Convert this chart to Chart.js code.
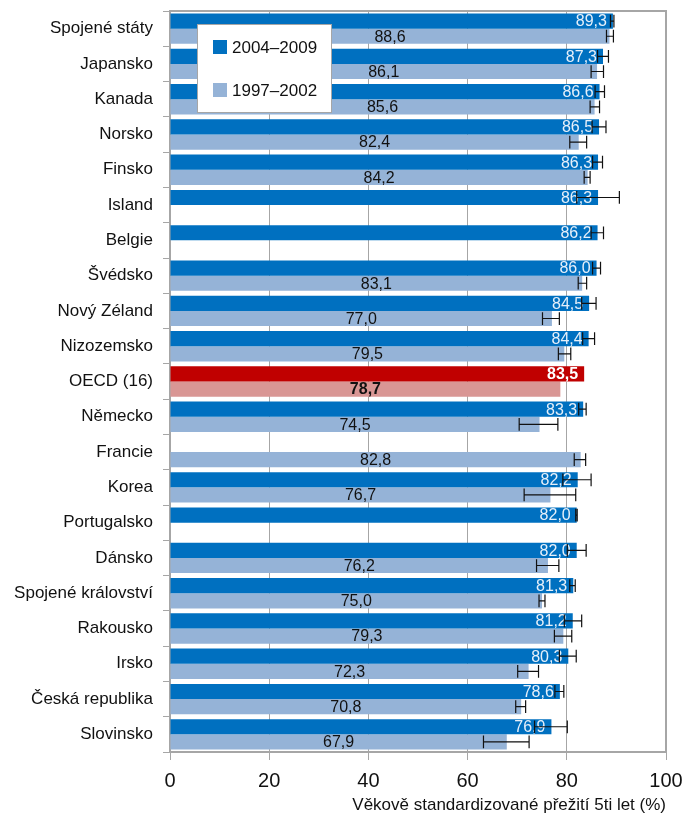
<!DOCTYPE html>
<html>
<head>
<meta charset="utf-8">
<script src="https://cdn.jsdelivr.net/npm/chart.js@4/dist/chart.umd.min.js"></script>
<style>
  body { margin: 0; background: #fff; }
</style>
</head>
<body>
<canvas id="graf" width="691" height="818"></canvas>
<script>
const zeme = ["Spojené státy", "Japansko", "Kanada", "Norsko", "Finsko", "Island", "Belgie", "Švédsko",
  "Nový Zéland", "Nizozemsko", "OECD (16)", "Německo", "Francie", "Korea", "Portugalsko", "Dánsko",
  "Spojené království", "Rakousko", "Irsko", "Česká republika", "Slovinsko"];

const obdobi2004 = [89.3, 87.3, 86.6, 86.5, 86.3, 86.3, 86.2, 86.0, 84.5, 84.4, 83.5, 83.3, null, 82.2, 82.0, 82.0, 81.3, 81.2, 80.3, 78.6, 76.9];
const obdobi1997 = [88.6, 86.1, 85.6, 82.4, 84.2, null, null, 83.1, 77.0, 79.5, 78.7, 74.5, 82.8, 76.7, null, 76.2, 75.0, 79.3, 72.3, 70.8, 67.9];

// intervaly spolehlivosti (dolni, horni)
const dolni2004 = [88.8, 86.2, 85.7, 85.1, 85.2, 82.0, 84.9, 85.2, 83.0, 83.2, null, 82.4, null, 79.2, 81.8, 80.1, 80.6, 79.5, 78.5, 77.6, 73.5];
const horni2004 = [89.5, 88.4, 87.6, 87.9, 87.2, 90.6, 87.4, 86.8, 85.9, 85.6, null, 83.9, null, 84.9, 82.1, 83.9, 81.7, 83.0, 81.9, 79.4, 80.1];
const dolni1997 = [88.0, 84.9, 84.7, 80.6, 83.5, null, null, 82.3, 75.1, 78.3, null, 70.4, 81.5, 71.4, null, 73.9, 74.4, 77.5, 70.1, 69.7, 63.2];
const horni1997 = [89.4, 87.4, 86.6, 84.0, 84.7, null, null, 84.0, 78.5, 80.8, null, 78.2, 83.8, 81.8, null, 78.4, 75.6, 81.0, 74.3, 71.7, 72.4];

const osaTicky = [0, 20, 40, 60, 80, 100];

const MODRA = "#0070C0";
const SVETLA = "#95B3D7";
const PISMO = "'Liberation Sans', Arial, sans-serif";
const OECD = zeme.indexOf("OECD (16)");

function barvy(zakladni, oecd) {
  return zeme.map((z, i) => (i === OECD ? oecd : zakladni));
}

function cislo(v) {
  return v.toFixed(1).replace(".", ",");
}

const chybovePlugin = {
  id: "chyby",
  afterDatasetsDraw(chart) {
    const ctx = chart.ctx;
    const x = chart.scales.x;
    const rozsahy = [[dolni2004, horni2004], [dolni1997, horni1997]];

    ctx.save();
    // popisky
    chart.data.datasets.forEach((ds, d) => {
      const meta = chart.getDatasetMeta(d);
      meta.data.forEach((bar, i) => {
        const v = ds.data[i];
        if (v === null) return;
        const tucne = i === OECD;
        ctx.font = (tucne ? "bold " : "") + "16px " + PISMO;
        ctx.textBaseline = "middle";
        if (d === 0) {
          ctx.fillStyle = tucne ? "#ffffff" : "#E6F0FA";
          ctx.textAlign = "right";
          ctx.fillText(cislo(v), bar.x - 6, bar.y + 1);
        } else {
          ctx.fillStyle = "#111";
          ctx.textAlign = "center";
          ctx.fillText(cislo(v), (bar.base + bar.x) / 2, bar.y + 1);
        }
      });
    });

    // chybove useky
    ctx.strokeStyle = "#111";
    ctx.lineWidth = 1.2;
    chart.data.datasets.forEach((ds, d) => {
      const meta = chart.getDatasetMeta(d);
      const [lo, hi] = rozsahy[d];
      meta.data.forEach((bar, i) => {
        if (ds.data[i] === null || lo[i] === null) return;
        const x1 = x.getPixelForValue(lo[i]);
        const x2 = x.getPixelForValue(hi[i]);
        const h = bar.height * 0.42;
        ctx.beginPath();
        ctx.moveTo(x1, bar.y);
        ctx.lineTo(x2, bar.y);
        ctx.moveTo(x1, bar.y - h);
        ctx.lineTo(x1, bar.y + h);
        ctx.moveTo(x2, bar.y - h);
        ctx.lineTo(x2, bar.y + h);
        ctx.stroke();
      });
    });
    ctx.restore();
  },
  afterDraw(chart) {
    const ctx = chart.ctx;
    const a = chart.chartArea;
    ctx.save();
    // ramecek
    ctx.strokeStyle = "#A6A6A6";
    ctx.lineWidth = 2;
    ctx.beginPath();
    ctx.moveTo(a.left, a.top);
    ctx.lineTo(a.right, a.top);
    ctx.lineTo(a.right, a.bottom);
    ctx.stroke();

    // legenda
    ctx.fillStyle = "#fff";
    ctx.fillRect(197, 24, 134, 88);
    ctx.strokeStyle = "#A6A6A6";
    ctx.lineWidth = 1;
    ctx.strokeRect(197.5, 24.5, 134, 88);
    const polozky = [[chart.data.datasets[0].label, MODRA, 47], [chart.data.datasets[1].label, SVETLA, 90]];
    ctx.font = "17px " + PISMO;
    ctx.textAlign = "left";
    ctx.textBaseline = "middle";
    polozky.forEach(([text, barva, y]) => {
      ctx.fillStyle = barva;
      ctx.fillRect(213, y - 7, 14, 14);
      ctx.fillStyle = "#111";
      ctx.fillText(text, 232, y + 1);
    });
    ctx.restore();
  }
};

new Chart(document.getElementById("graf"), {
  type: "bar",
  data: {
    labels: zeme,
    datasets: [
      {
        label: "2004–2009",
        data: obdobi2004,
        backgroundColor: barvy(MODRA, "#C00000"),
        borderWidth: 0,
        categoryPercentage: 0.86,
        barPercentage: 1
      },
      {
        label: "1997–2002",
        data: obdobi1997,
        backgroundColor: barvy(SVETLA, "#D99694"),
        borderWidth: 0,
        categoryPercentage: 0.86,
        barPercentage: 1
      }
    ]
  },
  options: {
    indexAxis: "y",
    responsive: false,
    animation: false,
    layout: { padding: { top: 11, right: 25, left: 0, bottom: 0 } },
    plugins: {
      legend: { display: false },
      tooltip: { enabled: false }
    },
    scales: {
      x: {
        min: 0,
        max: 100,
        afterBuildTicks(scale) {
          scale.ticks = osaTicky.map((v) => ({ value: v }));
        },
        afterFit(scale) {
          scale.height = 66;
          scale.paddingLeft = 0;
          scale.paddingRight = 0;
        },
        grid: {
          color: "#A6A6A6",
          lineWidth: 1,
          tickLength: 8,
          drawTicks: true
        },
        border: { color: "#A6A6A6", width: 2 },
        ticks: {
          color: "#111",
          padding: 9,
          maxRotation: 0,
          font: { size: 20, family: PISMO }
        },
        title: {
          display: true,
          text: "Věkově standardizované přežití 5ti let (%)",
          align: "end",
          color: "#111",
          padding: { top: 0, bottom: 2 },
          font: { size: 17, family: PISMO }
        }
      },
      y: {
        afterFit(scale) {
          scale.width = 170;
          scale.paddingTop = 0;
          scale.paddingBottom = 0;
        },
        grid: {
          offset: true,
          drawOnChartArea: false,
          color: "#A6A6A6",
          tickLength: 7
        },
        border: { color: "#A6A6A6", width: 2 },
        ticks: {
          color: "#111",
          padding: 10,
          autoSkip: false,
          font: { size: 17, family: PISMO }
        }
      }
    }
  },
  plugins: [chybovePlugin]
});
</script>
</body>
</html>
